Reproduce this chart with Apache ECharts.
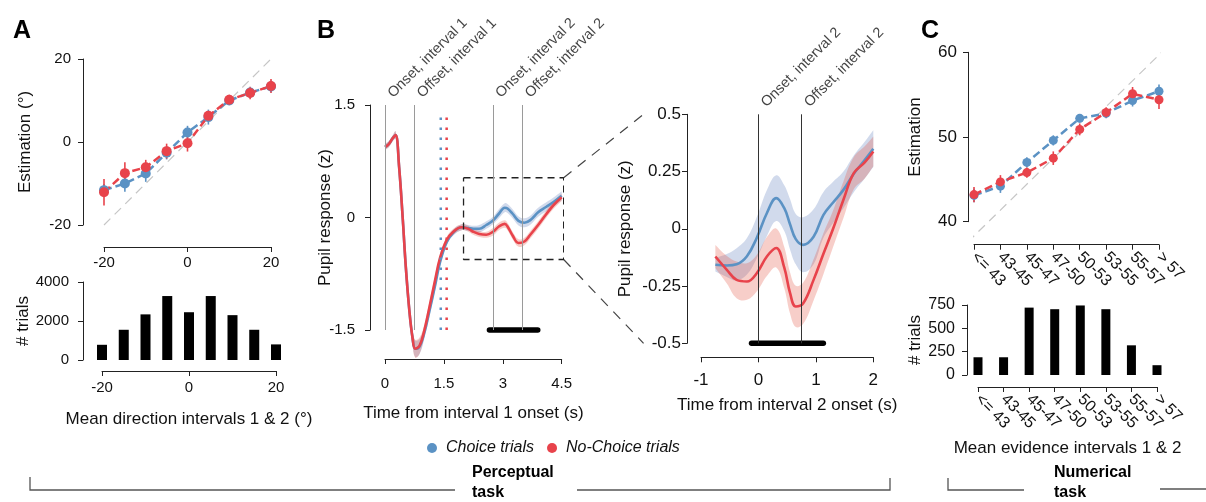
<!DOCTYPE html>
<html>
<head>
<meta charset="utf-8">
<title>Pupil response, perceptual and numerical task</title>
<script src="https://cdn.jsdelivr.net/npm/echarts@6/dist/echarts.min.js"></script>
<style>
    html, body { margin: 0; padding: 0; background: #fff; }
    #main { width: 1206px; height: 502px; }
</style>
</head>
<body>
<div id="main"></div>
<script>
// ---- panel A: estimation per mean direction bin ----
var aBins = [-20, -15, -10, -5, 0, 5, 10, 15, 20];
var aChoice = [-11.6, -10.0, -7.6, -2.6, 2.3, 6.0, 10.0, 11.9, 13.4];
var aChoiceErr = [1.5, 2.0, 2.0, 1.6, 1.6, 1.8, 1.1, 1.2, 1.4];
var aNoChoice = [-12.1, -7.5, -6.1, -2.2, -0.3, 6.3, 10.2, 11.8, 13.5];
var aNoChoiceErr = [3.2, 2.6, 1.8, 1.8, 2.0, 1.2, 1.2, 1.5, 1.7];
var aTrials = [780, 1550, 2340, 3280, 2450, 3280, 2300, 1550, 800];
var aDiagonal = [-20, 20];

// ---- panel B (left): pupil response from interval 1 onset ----
var bTime1 = [0, 0.1, 0.2, 0.27, 0.36, 0.45, 0.53, 0.62, 0.7, 0.77, 0.88, 1.0, 1.13, 1.27, 1.4, 1.57, 1.74,
    1.95, 2.12, 2.25, 2.4, 2.58, 2.75, 2.9, 3.05, 3.12, 3.25, 3.4, 3.55, 3.7, 3.9, 4.1, 4.3, 4.5];
var bChoice1 = [0.94, 0.98, 1.06, 1.10, 0.67, 0.0, -0.66, -1.24, -1.60, -1.75, -1.72, -1.54, -1.25, -0.92, -0.60, -0.33, -0.20,
    -0.13, -0.14, -0.15, -0.15, -0.10, -0.04, 0.05, 0.13, 0.12, 0.05, -0.045, -0.07, -0.035, 0.07, 0.14, 0.21, 0.29];
var bNoChoice1 = [0.94, 0.98, 1.06, 1.10, 0.67, 0.0, -0.66, -1.24, -1.60, -1.75, -1.71, -1.51, -1.20, -0.85, -0.54, -0.30, -0.19,
    -0.13, -0.15, -0.19, -0.22, -0.23, -0.19, -0.12, -0.085, -0.12, -0.24, -0.34, -0.32, -0.23, -0.10, 0.04, 0.17, 0.27];
var bChoiceCI1 = [0.04, 0.04, 0.04, 0.05, 0.05, 0.05, 0.06, 0.07, 0.09, 0.11, 0.10, 0.08, 0.07, 0.06, 0.05, 0.04, 0.04,
    0.04, 0.04, 0.04, 0.05, 0.05, 0.05, 0.06, 0.06, 0.06, 0.06, 0.06, 0.06, 0.06, 0.06, 0.06, 0.06, 0.06];
var bNoChoiceCI1 = [0.04, 0.04, 0.04, 0.05, 0.05, 0.05, 0.06, 0.07, 0.09, 0.12, 0.11, 0.08, 0.07, 0.06, 0.05, 0.04, 0.04,
    0.04, 0.04, 0.04, 0.04, 0.04, 0.05, 0.05, 0.05, 0.05, 0.05, 0.05, 0.05, 0.05, 0.05, 0.05, 0.05, 0.05];
var bEventTime1 = [0, 0.75, 2.75, 3.5];
var bEventName1 = ['Onset, interval 1', 'Offset, interval 1', 'Onset, interval 2', 'Offset, interval 2'];
var bDecisionTime = [1.42, 1.57];   // dotted markers: choice, no-choice
var bDecisionTop = 1.39;
var bSigWindow1 = [2.66, 3.89];
var bZoomBoxX = [2.0, 4.55];
var bZoomBoxY = [-0.56, 0.53];

// ---- panel B (right): zoom, time from interval 2 onset ----
var bTime2 = [-0.75, -0.55, -0.38, -0.2, -0.03, 0.15, 0.31, 0.45, 0.55, 0.65, 0.78, 0.96, 1.13, 1.3, 1.48, 1.66, 1.85, 2.0];
var bChoice2 = [-0.157, -0.16, -0.155, -0.12, -0.04, 0.07, 0.134, 0.09, 0.02, -0.045, -0.07, -0.035, 0.06, 0.115, 0.17, 0.24, 0.30, 0.35];
var bNoChoice2 = [-0.121, -0.179, -0.223, -0.23, -0.194, -0.12, -0.084, -0.17, -0.28, -0.339, -0.325, -0.223, -0.11, 0.0, 0.127, 0.243, 0.29, 0.338];
var bChoiceCI2 = [0.03, 0.05, 0.07, 0.08, 0.09, 0.10, 0.10, 0.10, 0.11, 0.11, 0.12, 0.12, 0.10, 0.09, 0.08, 0.08, 0.08, 0.08];
var bNoChoiceCI2 = [0.05, 0.06, 0.08, 0.08, 0.08, 0.085, 0.085, 0.09, 0.09, 0.09, 0.09, 0.09, 0.09, 0.08, 0.08, 0.07, 0.07, 0.065];
var bEventTime2 = [0, 0.75];
var bEventName2 = ['Onset, interval 2', 'Offset, interval 2'];
var bSigWindow2 = [-0.12, 1.13];

// ---- panel C: numerical task ----
var cBins = ['<= 43', '43-45', '45-47', '47-50', '50-53', '53-55', '55-57', '> 57'];
var cChoice = [43.1, 44.2, 47.0, 49.6, 52.2, 52.8, 54.3, 55.4];
var cChoiceErr = [0.8, 0.8, 0.6, 0.6, 0.5, 0.6, 0.7, 0.8];
var cNoChoice = [43.2, 44.7, 45.8, 47.5, 50.9, 52.9, 55.1, 54.4];
var cNoChoiceErr = [0.9, 0.8, 0.6, 0.8, 0.7, 0.6, 0.8, 1.1];
var cTrials = [190, 190, 722, 705, 745, 705, 318, 105];
var cDiagonal = [37.6, 60];

var FONT = '"Liberation Sans", Arial, Helvetica, sans-serif';
var INK = '#111';
var BLUE = '#5b92c4';
var RED = '#e8434b';
var BLUE_BAND = 'rgba(88,122,188,0.28)';
var RED_BAND = 'rgba(228,80,60,0.28)';
var SMOOTH = 0.4;

/**
 * value axis, R style: line only spans min..max and sits away from the plot
 */
function valueAxis(gridIndex, min, max, interval, offset, fontSize, margin, name, nameGap, vertical) {
    return {
        type: 'value',
        gridIndex: gridIndex,
        min: min,
        max: max,
        interval: interval,
        offset: offset,
        axisLine: { show: true, onZero: false, lineStyle: { color: '#222', width: 1 } },
        axisTick: { show: true, length: 5, lineStyle: { color: '#222', width: 1 } },
        axisLabel: {
            color: INK, fontSize: fontSize, fontFamily: FONT, margin: margin,
            formatter: function (v) { return String(v); }
        },
        splitLine: { show: false },
        name: name || '',
        nameLocation: 'middle',
        nameGap: nameGap || 0,
        nameMoveOverlap: false,
        nameRotate: vertical ? 90 : 0,
        nameTextStyle: { color: INK, fontSize: 17, fontFamily: FONT }
    };
}

function categoryAxis(gridIndex, offset, name, nameGap) {
    return {
        type: 'category',
        gridIndex: gridIndex,
        data: cBins,
        boundaryGap: false,
        offset: offset,
        axisLine: { show: true, onZero: false, lineStyle: { color: '#222', width: 1 } },
        axisTick: { show: true, length: 5, interval: 0, lineStyle: { color: '#222', width: 1 } },
        axisLabel: { color: INK, fontSize: 16, fontFamily: FONT, rotate: -45, interval: 0, margin: 10 },
        splitLine: { show: false },
        name: name || '',
        nameLocation: 'middle',
        nameGap: nameGap || 0,
        nameMoveOverlap: false,
        nameTextStyle: { color: INK, fontSize: 17, fontFamily: FONT }
    };
}

function pairs(xs, ys) {
    return xs.map(function (x, i) { return [x, ys[i]]; });
}

// dashed mean line with dots
function meanSeries(name, xi, yi, data, color, size) {
    return {
        name: name,
        type: 'line',
        xAxisIndex: xi,
        yAxisIndex: yi,
        data: data,
        clip: false,
        silent: true,
        z: 4,
        symbol: 'circle',
        symbolSize: size,
        itemStyle: { color: color, borderWidth: 0 },
        lineStyle: { color: color, width: 2.5, type: [8, 4] }
    };
}

// vertical error bars
function errorSeries(xi, yi, xs, vals, errs, color) {
    return {
        type: 'custom',
        xAxisIndex: xi,
        yAxisIndex: yi,
        silent: true,
        clip: false,
        z: 3,
        data: xs.map(function (x, i) { return [x, vals[i] - errs[i], vals[i] + errs[i]]; }),
        renderItem: function (params, api) {
            var a = api.coord([api.value(0), api.value(1)]);
            var b = api.coord([api.value(0), api.value(2)]);
            return {
                type: 'line',
                shape: { x1: a[0], y1: a[1], x2: b[0], y2: b[1] },
                style: { stroke: color, lineWidth: 1.6 }
            };
        }
    };
}

// shaded confidence band, drawn once as a smoothed polygon
function bandSeries(xi, yi, times, center, half, fill) {
    return {
        type: 'custom',
        xAxisIndex: xi,
        yAxisIndex: yi,
        silent: true,
        clip: false,
        z: 1,
        data: times.map(function (t, i) { return [t, center[i] - half[i], center[i] + half[i]]; }),
        renderItem: function (params, api) {
            if (params.dataIndex !== 0) {
                return null;
            }
            var up = [];
            var lo = [];
            for (var i = 0; i < times.length; i++) {
                up.push(api.coord([times[i], center[i] + half[i]]));
                lo.push(api.coord([times[i], center[i] - half[i]]));
            }
            var n = up.length;
            // doubled corner points keep the band ends square
            var pts = [up[0]].concat(up, [up[n - 1], lo[n - 1]], lo.slice().reverse(), [lo[0]]);
            return {
                type: 'polygon',
                shape: { points: pts, smooth: SMOOTH },
                style: { fill: fill }
            };
        }
    };
}

function pupilSeries(name, xi, yi, times, vals, color) {
    return {
        name: name,
        type: 'line',
        xAxisIndex: xi,
        yAxisIndex: yi,
        data: pairs(times, vals),
        smooth: SMOOTH,
        showSymbol: false,
        symbol: 'none',
        clip: false,
        silent: true,
        z: 3,
        lineStyle: { color: color, width: 2.6 },
        itemStyle: { color: color }
    };
}

function plainLine(xi, yi, data, style, z) {
    return {
        type: 'line',
        xAxisIndex: xi,
        yAxisIndex: yi,
        data: data,
        showSymbol: false,
        symbol: 'none',
        clip: false,
        silent: true,
        z: z || 4,
        lineStyle: style
    };
}

// event labels (rotated) plus the vertical event lines
function eventSeries(xi, yi, times, names, top, lineColor) {
    return {
        type: 'scatter',
        xAxisIndex: xi,
        yAxisIndex: yi,
        silent: true,
        z: 0,
        symbolSize: 1,
        itemStyle: { color: 'rgba(0,0,0,0)' },
        data: times.map(function (t) { return [t, top]; }),
        label: {
            show: true,
            position: 'top',
            distance: 3,
            offset: [8, 7],
            rotate: 45,
            align: 'left',
            verticalAlign: 'bottom',
            color: INK,
            fontSize: 14.5,
            fontFamily: FONT,
            formatter: function (p) { return names[p.dataIndex]; }
        },
        markLine: {
            silent: true,
            symbol: 'none',
            animation: false,
            label: { show: false },
            lineStyle: { color: lineColor, width: 1, type: 'solid' },
            emphasis: { disabled: true },
            data: times.map(function (t) { return { xAxis: t }; })
        }
    };
}

var series = [
    // A top
    plainLine(0, 0, pairs(aDiagonal, aDiagonal), { color: '#c6c6c6', width: 1.2, type: [9, 6] }, 1),
    errorSeries(0, 0, aBins, aChoice, aChoiceErr, BLUE),
    meanSeries('Choice trials', 0, 0, pairs(aBins, aChoice), BLUE, 10),
    errorSeries(0, 0, aBins, aNoChoice, aNoChoiceErr, RED),
    meanSeries('No-Choice trials', 0, 0, pairs(aBins, aNoChoice), RED, 10),
    // A bottom
    {
        type: 'bar', xAxisIndex: 1, yAxisIndex: 1, data: pairs(aBins, aTrials),
        barWidth: 10, clip: false, silent: true, itemStyle: { color: '#000' }
    },
    // B left
    eventSeries(2, 2, bEventTime1, bEventName1, 1.5, '#9a9a9a'),
    bandSeries(2, 2, bTime1, bChoice1, bChoiceCI1, BLUE_BAND),
    bandSeries(2, 2, bTime1, bNoChoice1, bNoChoiceCI1, RED_BAND),
    pupilSeries('Choice trials', 2, 2, bTime1, bChoice1, BLUE),
    pupilSeries('No-Choice trials', 2, 2, bTime1, bNoChoice1, RED),
    plainLine(2, 2, [[bDecisionTime[0], -1.5], [bDecisionTime[0], bDecisionTop]], { color: BLUE, width: 2.5, type: [2.5, 7.5] }),
    plainLine(2, 2, [[bDecisionTime[1], -1.5], [bDecisionTime[1], bDecisionTop]], { color: RED, width: 2.5, type: [2.5, 7.5] }),
    plainLine(2, 2, [[bSigWindow1[0], -1.5], [bSigWindow1[1], -1.5]], { color: '#000', width: 5.5, cap: 'round' }),
    plainLine(2, 2, [
        [bZoomBoxX[0], bZoomBoxY[1]], [bZoomBoxX[1], bZoomBoxY[1]], [bZoomBoxX[1], bZoomBoxY[0]],
        [bZoomBoxX[0], bZoomBoxY[0]], [bZoomBoxX[0], bZoomBoxY[1]]
    ], { color: '#222', width: 1.3, type: [7, 5] }),
    // B right
    eventSeries(3, 3, bEventTime2, bEventName2, 0.5, '#333'),
    bandSeries(3, 3, bTime2, bChoice2, bChoiceCI2, BLUE_BAND),
    bandSeries(3, 3, bTime2, bNoChoice2, bNoChoiceCI2, RED_BAND),
    pupilSeries('Choice trials', 3, 3, bTime2, bChoice2, BLUE),
    pupilSeries('No-Choice trials', 3, 3, bTime2, bNoChoice2, RED),
    plainLine(3, 3, [[bSigWindow2[0], -0.5], [bSigWindow2[1], -0.5]], { color: '#000', width: 5.5, cap: 'round' }),
    // C top
    plainLine(5, 4, pairs(cDiagonal, cDiagonal), { color: '#c6c6c6', width: 1.2, type: [9, 6] }, 1),
    errorSeries(4, 4, cBins.map(function (b, i) { return i; }), cChoice, cChoiceErr, BLUE),
    meanSeries('Choice trials', 4, 4, cChoice, BLUE, 9),
    errorSeries(4, 4, cBins.map(function (b, i) { return i; }), cNoChoice, cNoChoiceErr, RED),
    meanSeries('No-Choice trials', 4, 4, cNoChoice, RED, 9),
    // C bottom
    {
        type: 'bar', xAxisIndex: 6, yAxisIndex: 5, data: cTrials,
        barWidth: 9, clip: false, silent: true, itemStyle: { color: '#000' }
    }
];

var bracketStyle = { stroke: '#555', lineWidth: 1.3, fill: null };
var taskFont = { fontSize: 16, fontWeight: 'bold', fontFamily: FONT, fill: '#000' };
var letterFont = { fontSize: 25, fontWeight: 'bold', fontFamily: FONT, fill: '#000' };

function label(id, text, x, y, extra) {
    var style = { text: text };
    for (var k in extra) {
        style[k] = extra[k];
    }
    return { id: id, type: 'text', left: x, top: y, silent: true, style: style };
}

var option = {
    animation: false,
    backgroundColor: '#fff',
    textStyle: { fontFamily: FONT },
    grid: [
        { left: 104, top: 59, width: 167, height: 166, outerBoundsMode: 'none' },
        { left: 102, top: 282, width: 174, height: 78, outerBoundsMode: 'none' },
        { left: 385, top: 105, width: 176.7, height: 225, outerBoundsMode: 'none' },
        { left: 701, top: 114.3, width: 172.3, height: 229, outerBoundsMode: 'none' },
        { left: 974, top: 52.3, width: 185, height: 169.4, outerBoundsMode: 'none' },
        { left: 978, top: 305, width: 179, height: 70, outerBoundsMode: 'none' }
    ],
    xAxis: [
        valueAxis(0, -20, 20, 20, 22, 15, 8),
        valueAxis(1, -20, 20, 20, 11, 15, 9, 'Mean direction intervals 1 & 2 (°)', 40),
        valueAxis(2, 0, 4.5, 1.5, 29, 15, 17, 'Time from interval 1 onset (s)', 46),
        valueAxis(3, -1, 2, 1, 14, 17, 15, 'Time from interval 2 onset (s)', 40),
        categoryAxis(4, 23),
        { type: 'value', gridIndex: 4, show: false, min: 38.32, max: 59.69 },
        categoryAxis(5, 12, 'Mean evidence intervals 1 & 2', 53)
    ],
    yAxis: [
        valueAxis(0, -20, 20, 20, 21, 15, 12, 'Estimation (°)', 49, true),
        valueAxis(1, 0, 4000, 2000, 19, 15, 14, '# trials', 51, true),
        valueAxis(2, -1.5, 1.5, 1.5, 15, 15, 15, 'Pupil response (z)', 36, true),
        valueAxis(3, -0.5, 0.5, 0.25, 14, 17, 6, 'Pupil response (z)', 53, true),
        valueAxis(4, 40, 60, 10, 6, 17, 11, 'Estimation', 44, true),
        valueAxis(5, 0, 750, 250, 11, 16, 12, '# trials', 43, true)
    ],
    legend: {
        left: 422,
        top: 435,
        icon: 'circle',
        itemWidth: 18,
        itemHeight: 10,
        itemGap: 13,
        selectedMode: false,
        data: ['Choice trials', 'No-Choice trials'],
        textStyle: { color: INK, fontSize: 16, fontStyle: 'italic', fontFamily: FONT }
    },
    graphic: [
        label('letterA', 'A', 13, 19, letterFont),
        label('letterB', 'B', 317, 19, letterFont),
        label('letterC', 'C', 921, 19, letterFont),
        { id: 'brPercL', type: 'polyline', silent: true, shape: { points: [[30, 477], [30, 490], [455, 490]] }, style: bracketStyle },
        { id: 'brPercR', type: 'polyline', silent: true, shape: { points: [[577, 490], [890, 490], [890, 478]] }, style: bracketStyle },
        { id: 'brNumL', type: 'polyline', silent: true, shape: { points: [[948, 478], [948, 490], [1024, 490]] }, style: bracketStyle },
        { id: 'brNumR', type: 'polyline', silent: true, shape: { points: [[1160, 489], [1206, 489]] }, style: bracketStyle },
        label('percTask1', 'Perceptual', 472, 465, taskFont),
        label('percTask2', 'task', 472, 485, taskFont),
        label('numTask1', 'Numerical', 1054, 465, taskFont),
        label('numTask2', 'task', 1054, 485, taskFont)
    ],
    series: series
};

var chart = echarts.init(document.getElementById('main'), null, { renderer: 'canvas' });
chart.setOption(option);

// dashed connectors from the zoom box in B to the enlarged panel
var boxTop = chart.convertToPixel({ gridIndex: 2 }, [bZoomBoxX[1], bZoomBoxY[1]]);
var boxBottom = chart.convertToPixel({ gridIndex: 2 }, [bZoomBoxX[1], bZoomBoxY[0]]);
var zoomTop = chart.convertToPixel({ gridIndex: 3 }, [-2, 0.5]);
var zoomBottom = chart.convertToPixel({ gridIndex: 3 }, [-2, -0.5]);
var connectorStyle = { stroke: '#444', lineWidth: 1.2, lineDash: [10, 8] };
chart.setOption({
    graphic: [
        { id: 'connTop', type: 'line', silent: true, shape: { x1: boxTop[0], y1: boxTop[1], x2: zoomTop[0], y2: zoomTop[1] }, style: connectorStyle },
        { id: 'connBottom', type: 'line', silent: true, shape: { x1: boxBottom[0], y1: boxBottom[1], x2: zoomBottom[0], y2: zoomBottom[1] }, style: connectorStyle }
    ]
});
</script>
</body>
</html>
